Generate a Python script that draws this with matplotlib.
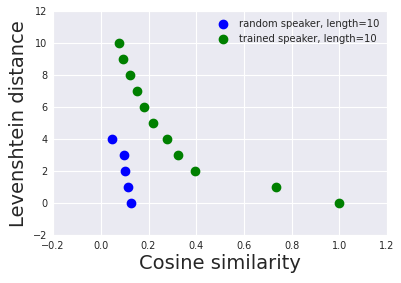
import numpy as np
import matplotlib
matplotlib.use("Agg")
import matplotlib.pyplot as plt
import seaborn as sns

sns.set_style("darkgrid")
plt.rcParams['font.family'] = ['DejaVu Sans']

# Levenshtein distance vs cosine similarity
random_sim = [0.127, 0.115, 0.103, 0.099, 0.047]
random_dist = [0, 1, 2, 3, 4]

trained_sim = [1.0, 0.735, 0.395, 0.324, 0.278, 0.219, 0.182, 0.152, 0.123, 0.094, 0.077]
trained_dist = [0, 1, 2, 3, 4, 5, 6, 7, 8, 9, 10]

fig = plt.figure(figsize=(4.02, 2.83), dpi=100)
ax = fig.add_axes([0.132, 0.168, 0.831, 0.793])

ax.plot(random_sim, random_dist, 'o', color='blue', markersize=6,
        label='random speaker, length=10')
ax.plot(trained_sim, trained_dist, 'o', color='green', markersize=6,
        label='trained speaker, length=10')

ax.set_xlim(-0.2, 1.2)
ax.set_ylim(-2, 12)
ax.set_xticks(np.arange(-0.2, 1.21, 0.2))
ax.set_yticks(np.arange(-2, 13, 2))
ax.tick_params(labelsize=7, colors='.15', length=0, pad=4)
ax.set_xlabel('Cosine similarity', fontsize=14, labelpad=2)
ax.set_ylabel('Levenshtein distance', fontsize=14, labelpad=4)
ax.legend(loc='upper right', numpoints=1, fontsize=7.2, frameon=False,
          handletextpad=0.6, borderaxespad=0.4)

fig.savefig('out.png', dpi=100)
